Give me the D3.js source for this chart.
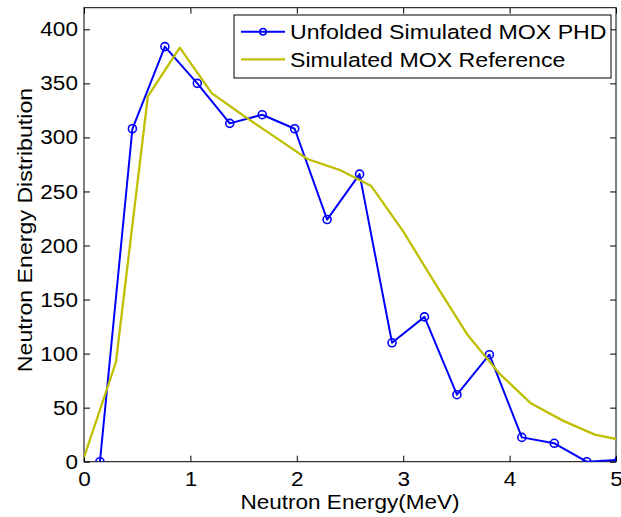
<!DOCTYPE html>
<html><head><meta charset="utf-8">
<script src="https://cdn.jsdelivr.net/npm/d3@7"></script>
<style>
body{margin:0;background:#fff}
text{font-family:"Liberation Sans",Arial,Helvetica,sans-serif}
</style>
</head><body>
<svg id="chart" width="621" height="517"></svg>
<script>
// ---- data ----
const xTicks = [0, 1, 2, 3, 4, 5];
const yTicks = [0, 50, 100, 150, 200, 250, 300, 350, 400];
const seriesNames = ["Unfolded Simulated MOX PHD", "Simulated MOX Reference"];
const xLabel = "Neutron Energy(MeV)";
const yLabel = "Neutron Energy Distribution";

// Unfolded Simulated MOX PHD (blue, circle markers)
const phdEnergy = [0.15, 0.455, 0.76, 1.065, 1.37, 1.675, 1.98, 2.285, 2.59, 2.895, 3.2, 3.505, 3.81, 4.115, 4.42, 4.725, 5.03];
const phdValues = [0, 308, 384, 350, 313, 321, 308, 224, 266, 110, 134, 62, 99, 22.5, 17, 0, 1.7];

// Simulated MOX Reference (yellow line)
const refEnergy = [0, 0.3, 0.6, 0.9, 1.2, 1.5, 1.8, 2.1, 2.4, 2.7, 3.0, 3.3, 3.6, 3.9, 4.2, 4.5, 4.8, 5.0];
const refValues = [4, 92, 338, 383, 341, 320, 300, 280, 270, 255, 213, 165, 118, 82, 54, 38, 25, 21];

// ---- layout ----
const L = 84, R = 616, T = 7.7, B = 461.7;
const FS = 20.5, SX = 1.1, SXL = 1.13;
const blue = "#0000ff", yellow = "#bfbf00";

const svg = d3.select("#chart");
const x = d3.scaleLinear().domain([0, 5]).range([L, R]);
const y = d3.scaleLinear().domain([0, 420]).range([B, T]);

svg.append("defs").append("clipPath").attr("id", "plotclip")
  .append("rect").attr("x", L).attr("y", T).attr("width", R - L).attr("height", B - T);

svg.append("rect").attr("x", L).attr("y", T).attr("width", R - L).attr("height", B - T).attr("fill", "#fff");

// axes
function styleAxis(g, showText) {
  g.select(".domain").remove();
  g.selectAll(".tick line").attr("stroke", "#000").attr("stroke-width", 1);
  g.selectAll(".tick text").attr("fill", "#000").style("font-size", FS + "px")
    .attr("transform", "scale(" + SX + ",1)");
  if (!showText) g.selectAll(".tick text").remove();
}
svg.append("g").attr("transform", `translate(0,${B})`)
  .call(d3.axisBottom(x).tickValues(xTicks).tickFormat(d3.format("d")).tickSizeInner(-6).tickSizeOuter(0).tickPadding(10))
  .call(g => styleAxis(g, true));
svg.append("g").attr("transform", `translate(0,${T})`)
  .call(d3.axisTop(x).tickValues(xTicks).tickSizeInner(-6).tickSizeOuter(0))
  .call(g => styleAxis(g, false));
svg.append("g").attr("transform", `translate(${L},0)`)
  .call(d3.axisLeft(y).tickValues(yTicks).tickFormat(d3.format("d")).tickSizeInner(-6).tickSizeOuter(0).tickPadding(5.5))
  .call(g => styleAxis(g, true));
svg.append("g").attr("transform", `translate(${R},0)`)
  .call(d3.axisRight(y).tickValues(yTicks).tickSizeInner(-6).tickSizeOuter(0))
  .call(g => styleAxis(g, false));

// box
svg.append("rect").attr("x", L).attr("y", T).attr("width", R - L).attr("height", B - T)
  .attr("fill", "none").attr("stroke", "#000").attr("stroke-width", 1);

// series
const plot = svg.append("g").attr("clip-path", "url(#plotclip)");
const phd = phdEnergy.map((e, i) => [e, phdValues[i]]);
const ref = refEnergy.map((e, i) => [e, refValues[i]]);
const line = d3.line().x(d => x(d[0])).y(d => y(d[1]));

plot.append("path").datum(phd).attr("d", line).attr("fill", "none")
  .attr("stroke", blue).attr("stroke-width", 2).attr("stroke-linejoin", "round");
plot.selectAll("circle.m").data(phd).enter().append("circle").attr("class", "m")
  .attr("cx", d => x(d[0])).attr("cy", d => y(d[1])).attr("r", 4)
  .attr("fill", "none").attr("stroke", blue).attr("stroke-width", 1.6);
plot.append("path").datum(ref).attr("d", line).attr("fill", "none")
  .attr("stroke", yellow).attr("stroke-width", 2.3).attr("stroke-linejoin", "round");

// axis labels
svg.append("text").attr("transform", `translate(${(L + R) / 2},509) scale(${SX},1)`)
  .attr("text-anchor", "middle").style("font-size", FS + "px").attr("fill", "#000").text(xLabel);
svg.append("text").attr("transform", `translate(32,230) rotate(-90) scale(${SXL},1)`)
  .attr("text-anchor", "middle").style("font-size", FS + "px").attr("fill", "#000").text(yLabel);

// legend
const lg = svg.append("g");
lg.append("rect").attr("x", 234).attr("y", 15).attr("width", 377).attr("height", 63)
  .attr("fill", "#fff").attr("stroke", "#000").attr("stroke-width", 1);
lg.append("line").attr("x1", 241).attr("x2", 285).attr("y1", 31.7).attr("y2", 31.7)
  .attr("stroke", blue).attr("stroke-width", 2);
lg.append("circle").attr("cx", 263).attr("cy", 31.7).attr("r", 3.2)
  .attr("fill", "none").attr("stroke", blue).attr("stroke-width", 1.5);
lg.append("line").attr("x1", 241).attr("x2", 285).attr("y1", 59.3).attr("y2", 59.3)
  .attr("stroke", yellow).attr("stroke-width", 2.3);
lg.append("text").attr("transform", `translate(290,39) scale(${SXL},1)`)
  .style("font-size", FS + "px").attr("fill", "#000").text(seriesNames[0]);
lg.append("text").attr("transform", `translate(290,66.5) scale(${SXL},1)`)
  .style("font-size", FS + "px").attr("fill", "#000").text(seriesNames[1]);
</script>
</body></html>
